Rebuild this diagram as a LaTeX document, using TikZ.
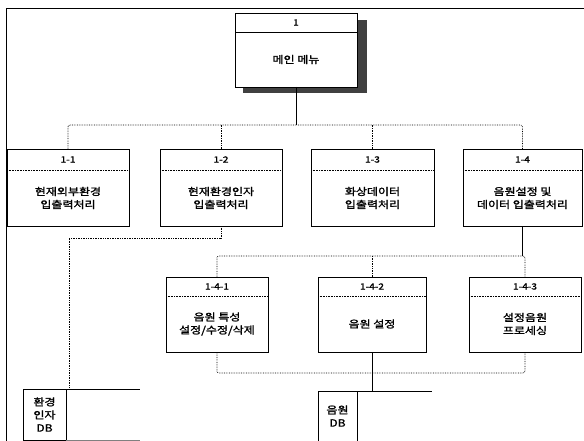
\documentclass[tikz,border=0pt]{standalone}
\usepackage{fontspec}
\newfontfamily\kr[FakeStretch=1.2, FakeBold=1.6]{Noto Sans CJK KR}
\newcommand\prbox[8]{%
  \node[box, minimum width={(#4-#2)*1pt}, minimum height={(#5-#3)*1pt}] (#1) at ({(#2+#4)/2},{(#3+#5)/2}) {};
  \draw[div] (#2,#6) -- (#4,#6);
  \node[ttl] (#1t) at ({(#2+#4)/2},{(#3+#6)/2}) {#7};
  \node[body] (#1x) at ({(#2+#4)/2},{(#6+#5)/2}) {#8};
}
\begin{document}
\begin{tikzpicture}[x=1pt,y=-1pt,
  box/.style={draw, line width=0.8pt, fill=white, inner sep=0pt, outer sep=0pt},
  div/.style={densely dotted, line width=0.6pt},
  bus/.style={densely dotted, line width=0.7pt},
  link/.style={line width=0.8pt},
  frame/.style={line width=1pt},
  ttl/.style={font=\kr\fontsize{8.5}{10}\selectfont, inner sep=0pt},
  body/.style={font=\kr\fontsize{10}{13}\selectfont, align=center, inner sep=0pt},
  dbid/.style={draw, line width=0.8pt, inner sep=0pt, outer sep=0pt, align=center,
               font=\kr\fontsize{10}{13}\selectfont}]
\useasboundingbox (0,0) rectangle (584,441);
% frame
\draw[frame] (584,9) -- (6,9) -- (6,441);
% main box with shadow
\fill[black!75] (243,20) rectangle (367,93);
\prbox{m}{235}{13}{357}{87}{32}{1}{메인 메뉴}
\draw[link] (m.west |- 0,32) -- (m.east |- 0,32);
% level 2
\prbox{b11}{7}{149}{129}{226}{170}{1-1}{현재외부환경\\입출력처리}
\prbox{b12}{160}{149}{282}{226}{170}{1-2}{현재환경인자\\입출력처리}
\prbox{b13}{311}{149}{434}{226}{170}{1-3}{화상데이터\\입출력처리}
\prbox{b14}{463}{149}{582}{226}{170}{1-4}{음원설정 및\\데이터 입출력처리}
% level 3
\prbox{b141}{166}{277}{268}{352}{296}{1-4-1}{음원 특성\\설정/수정/삭제}
\prbox{b142}{318}{277}{426}{352}{296}{1-4-2}{음원 설정}
\prbox{b143}{469}{277}{581}{352}{296}{1-4-3}{설정음원\\프로세싱}
% data stores
\node[dbid, minimum width=43pt, minimum height=51pt] (db1) at (44.5,414.5) {환경\\인자\\DB};
\coordinate (db1e) at (140,389);
\coordinate (db1f) at (140,440);
\draw[link] (db1.north east) -- (db1e);
\draw[link, gray] (db1.south east) -- (db1f);
\node[dbid, minimum width=39pt, minimum height=50pt] (db2) at (337.5,416) {음원\\DB};
\coordinate (db2e) at (432,391);
\coordinate (db2f) at (432,441);
\draw[link] (db2.north east) -- (db2e);
\draw[link, gray] (db2.south east) -- (db2f);
% junction coordinates
\coordinate (j0) at (296,125);
\coordinate (j1) at (0,238);
\coordinate (j2) at (0,256);
\coordinate (j3) at (0,373);
\coordinate (d1) at (69,389);
\coordinate (d2) at (372,391);
% connectors
\draw[link] (m) -- (j0);
\draw[bus, rounded corners=2pt] (b11.north) -- (b11.north |- j0) -- (b14.north |- j0) -- (b14.north);
\draw[bus] (b12.north) -- (b12.north |- j0);
\draw[bus] (b13.north) -- (b13.north |- j0);
\draw[bus] (b12.south) -- (b12.south |- j1) -| (d1);
\draw[link] (b14.south) -- (b14.south |- j2);
\draw[bus, rounded corners=2pt] (b141.north) -- (b141.north |- j2) -- (b143.north |- j2) -- (b143.north);
\draw[bus] (b142.north) -- (b142.north |- j2);
\draw[bus, rounded corners=2pt] (b141.south) -- (b141.south |- j3) -- (b143.south |- j3) -- (b143.south);
\draw[link] (b142.south) -- (d2);
\end{tikzpicture}
\end{document}
